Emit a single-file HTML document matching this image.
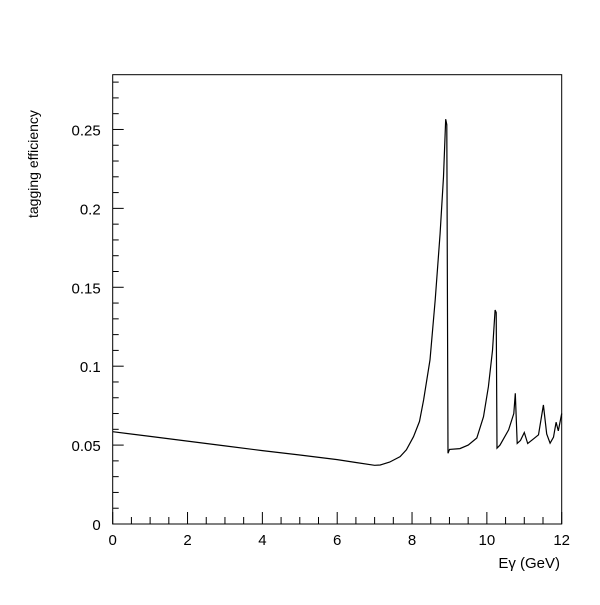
<!DOCTYPE html>
<html><head><meta charset="utf-8"><style>
body{margin:0;background:#fff}
svg text{font-family:"Liberation Sans",sans-serif;fill:#000}
</style></head><body>
<svg id="chart" width="600" height="600" xmlns="http://www.w3.org/2000/svg">
<rect width="600" height="600" fill="#fff"/>
<g id="axes"></g>
<path id="curve" fill="none" stroke="#000" stroke-width="1.2"/>
<text x="560" y="568" font-size="15" text-anchor="end">Eγ (GeV)</text>
<text transform="translate(38,218) rotate(-90)" font-size="14">tagging efficiency</text>
</svg>
<script>
const energies=[0,1,2,3,4,5,6,6.5,7.0,7.15,7.4,7.68,7.85,8.04,8.2,8.31,8.48,8.62,8.75,8.84,8.90,8.93,8.96,9.0,9.28,9.5,9.73,9.91,10.04,10.15,10.22,10.25,10.27,10.35,10.58,10.72,10.76,10.81,10.90,11.0,11.09,11.25,11.38,11.51,11.60,11.69,11.78,11.85,11.91,12.0];
const efficiency=[0.0585,0.0555,0.0525,0.0495,0.0465,0.0437,0.0408,0.0390,0.0372,0.0374,0.0392,0.0427,0.0470,0.0553,0.0650,0.0786,0.104,0.142,0.184,0.220,0.2565,0.2530,0.0448,0.0473,0.0478,0.0500,0.0545,0.068,0.087,0.110,0.1356,0.1340,0.048,0.050,0.0596,0.070,0.0828,0.0511,0.053,0.058,0.051,0.054,0.0565,0.0754,0.057,0.0512,0.055,0.0645,0.059,0.070];
const xTicks=["0","2","4","6","8","10","12"];
const yTicks=["0","0.05","0.1","0.15","0.2","0.25"];
const X0=112.7,X1=561.7,Y0=524,YT=74.7,XMAX=12,YMAX=0.2847;
const sx=v=>X0+(X1-X0)*v/XMAX;
const sy=v=>Y0-(Y0-YT)*v/YMAX;
const NS="http://www.w3.org/2000/svg";
const ax=document.getElementById('axes');
function el(t,a){const e=document.createElementNS(NS,t);for(const k in a)e.setAttribute(k,a[k]);ax.appendChild(e);return e;}
const fr=el('rect',{x:X0,y:YT,width:X1-X0,height:Y0-YT,fill:'none',stroke:'#000','stroke-width':1});


for(let i=0;i<=24;i++){const v=i*0.5;const len=i%4===0?12:7;
 const t=el('line',{x1:sx(v),x2:sx(v),y1:Y0,y2:Y0-len,stroke:'#000'});
 
 }
xTicks.forEach(s=>{const v=parseFloat(s);const t=el('text',{x:sx(v),y:Y0+21,'font-size':15,'text-anchor':'middle'});t.textContent=s;
 
 });
for(let i=0;i<=28;i++){const v=i*0.01;const len=i%5===0?11:6;
 const t=el('line',{x1:X0,x2:X0+len,y1:sy(v),y2:sy(v),stroke:'#000'});
 
 }
yTicks.forEach(s=>{const v=parseFloat(s);const t=el('text',{x:X0-12,y:sy(v)+6,'font-size':15,'text-anchor':'end'});t.textContent=s;
 
 });
document.getElementById('curve').setAttribute('d',energies.map((e,i)=>(i?'L':'M')+sx(e).toFixed(1)+','+sy(efficiency[i]).toFixed(1)).join(''));
</script>
</body></html>
